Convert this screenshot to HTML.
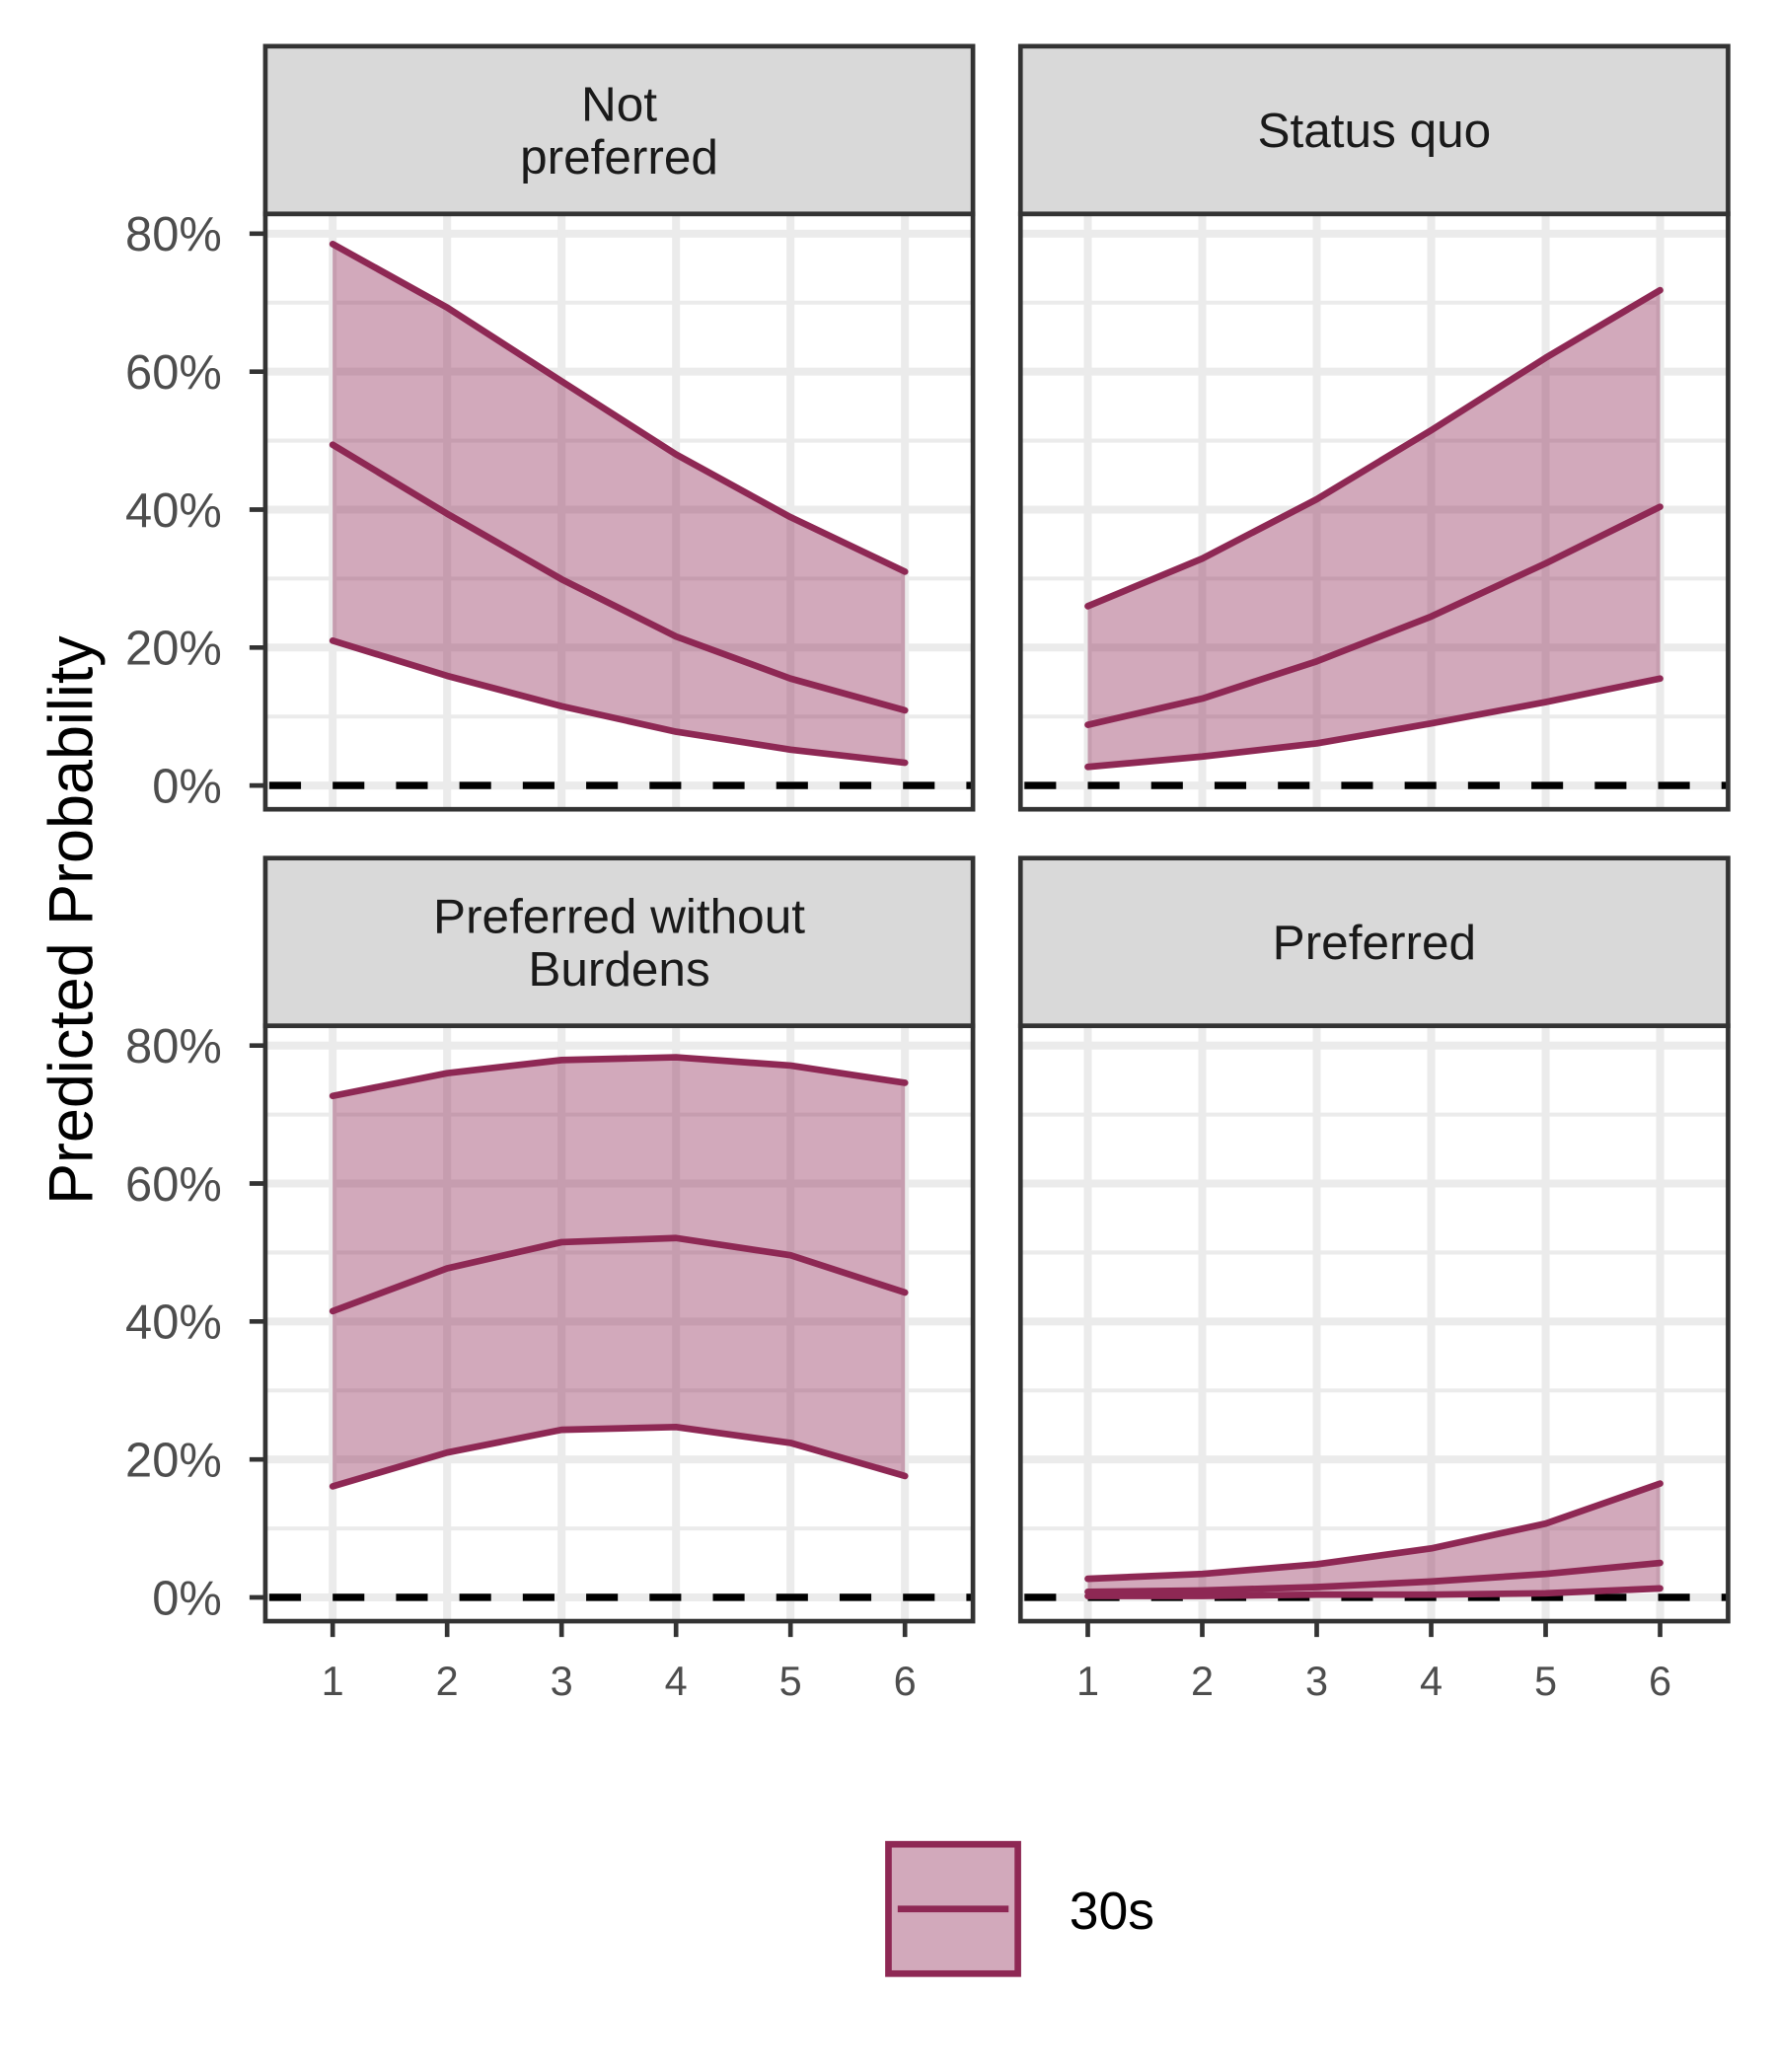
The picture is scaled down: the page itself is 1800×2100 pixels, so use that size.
<!DOCTYPE html>
<html><head><meta charset="utf-8"><style>
html,body{margin:0;padding:0;background:#fff;}
svg{display:block;}
text{font-family:"Liberation Sans",Arial,sans-serif;}
</style></head><body>
<svg id="chart" width="1800" height="2100" viewBox="0 0 1345.3 1569.5" xmlns="http://www.w3.org/2000/svg">
<text x="0" y="0" transform="translate(70,697) rotate(-90)" text-anchor="middle" font-size="47" fill="#000">Predicted Probability</text>
<g>
<rect x="673" y="1397" width="98" height="98" fill="#d2a9bb" stroke="#8e2854" stroke-width="5"/>
<line x1="680" y1="1446" x2="764" y2="1446" stroke="#8e2854" stroke-width="5"/>
<text x="810" y="1461" font-size="40" fill="#000">30s</text>
</g>
</svg>
<script>
const xCats=[1,2,3,4,5,6];
const yTicks=[0,20,40,60,80];
const yTickLabels=["0%","20%","40%","60%","80%"];
const panelTitles=[["Not","preferred"],["Status quo"],["Preferred without","Burdens"],["Preferred"]];
const upper1=[78.5,69.3,58.6,48,38.9,31];
const mid1=[49.4,39.4,29.9,21.6,15.5,10.9];
const low1=[21,15.9,11.5,7.8,5.2,3.3];
const upper2=[26,32.9,41.5,51.5,62,71.8];
const mid2=[8.8,12.6,18,24.5,32.2,40.4];
const low2=[2.7,4.2,6.1,9,12.1,15.5];
const upper3=[72.7,76,77.9,78.3,77.1,74.6];
const mid3=[41.5,47.7,51.5,52.1,49.6,44.2];
const low3=[16.1,21,24.3,24.7,22.4,17.6];
const upper4=[2.7,3.4,4.8,7.1,10.7,16.5];
const mid4=[0.8,1,1.5,2.3,3.4,5];
const low4=[0.2,0.2,0.4,0.4,0.6,1.3];
const uppers=[upper1,upper2,upper3,upper4];
const mids=[mid1,mid2,mid3,mid4];
const lows=[low1,low2,low3,low4];

const NS="http://www.w3.org/2000/svg";
const svg=document.getElementById('chart');
function mk(tag,attrs,parent){const e=document.createElementNS(NS,tag);for(const k in attrs)e.setAttribute(k,attrs[k]);(parent||svg).appendChild(e);return e;}
const panels=[{l:201,t:35},{l:773,t:35},{l:201,t:650},{l:773,t:650}];
const PW=536,SH=127,PH=451;
panels.forEach((p,i)=>{
  const g=mk('g',{});
  
  
  const top=p.t+SH, bot=top+PH;
  const zeroY=top+433;
  const yS=v=>zeroY-v*5.225;
  const xS=v=>p.l+51+(v-1)*86.7;
  for(let v=10;v<=80;v+=20){const gl=mk('line',{x1:p.l,x2:p.l+PW,y1:yS(v),y2:yS(v),stroke:'#ebebeb','stroke-width':3},g);}
  yTicks.forEach(v=>{const gl=mk('line',{x1:p.l,x2:p.l+PW,y1:yS(v),y2:yS(v),stroke:'#ebebeb','stroke-width':6},g);});
  xCats.forEach(v=>{const gl=mk('line',{x1:xS(v),x2:xS(v),y1:top,y2:bot,stroke:'#ebebeb','stroke-width':6},g);});
  const up=uppers[i],lo=lows[i],md=mids[i];
  let d='M'+xCats.map((c,j)=>xS(c)+','+yS(up[j])).join('L');
  d+='L'+xCats.slice().reverse().map((c,j)=>xS(c)+','+yS(lo[lo.length-1-j])).join('L')+'Z';
  const rib=mk('path',{d:d,fill:'#8e2854','fill-opacity':0.4},g);
  
  
  const z=mk('line',{x1:p.l,x2:p.l+PW,y1:zeroY,y2:zeroY,stroke:'#000','stroke-width':5.5,'stroke-dasharray':'24 24','stroke-dashoffset':'-3'},g);
  
  
  [['upper-bound-line',up],['estimate-line',md],['lower-bound-line',lo]].forEach(([n,arr])=>{
    const pl=mk('polyline',{points:xCats.map((c,j)=>xS(c)+','+yS(arr[j])).join(' '),fill:'none',stroke:'#8e2854','stroke-width':5,'stroke-linejoin':'round','stroke-linecap':'round'},g);
    
    
  });
  const b=mk('rect',{x:p.l,y:top,width:PW,height:PH,fill:'none',stroke:'#333','stroke-width':3.5},g);
  
  
  const s=mk('rect',{x:p.l,y:p.t,width:PW,height:SH,fill:'#d9d9d9',stroke:'#333','stroke-width':3.5},g);
  
  
  const lines=panelTitles[i];
  const cy=p.t+SH/2;
  lines.forEach((ln,k)=>{
    const ty=cy+13+(k-(lines.length-1)/2)*40;
    const t=mk('text',{x:p.l+PW/2,y:ty,'text-anchor':'middle','font-size':37,fill:'#1a1a1a'},g);
    t.textContent=ln;
    
    
  });
  if(i%2===0){
    yTicks.forEach((v,j)=>{
      const tk=mk('line',{x1:p.l-12,x2:p.l,y1:yS(v),y2:yS(v),stroke:'#333','stroke-width':3.5},g);
      
      
      const tl=mk('text',{x:p.l-33,y:yS(v)+13,'text-anchor':'end','font-size':36.5,fill:'#4d4d4d'},g);
      tl.textContent=yTickLabels[j];
      
      
    });
  }
  if(i>=2){
    xCats.forEach(v=>{
      const tk=mk('line',{x1:xS(v),x2:xS(v),y1:bot,y2:bot+12,stroke:'#333','stroke-width':3.5},g);
      
      
      const tl=mk('text',{x:xS(v),y:bot+56,'text-anchor':'middle','font-size':31,fill:'#4d4d4d'},g);
      tl.textContent=String(v);
      
      
    });
  }
});
</script>
</body></html>
